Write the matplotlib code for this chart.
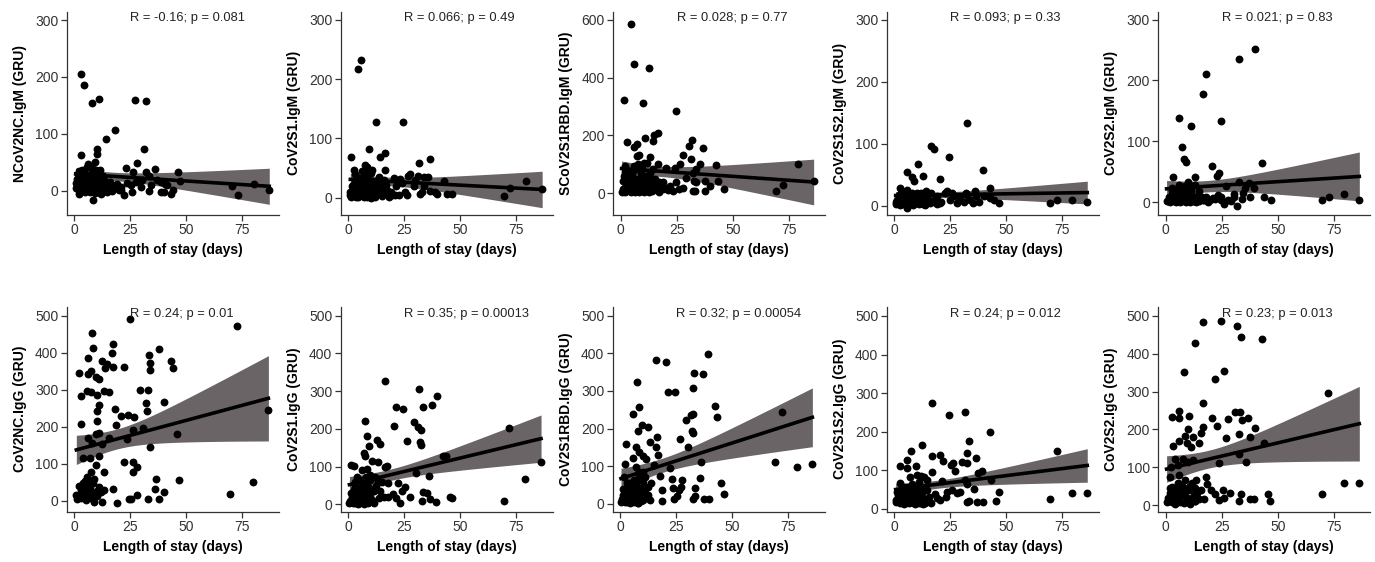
import matplotlib
matplotlib.use("Agg")
import matplotlib.pyplot as plt
import numpy as np

plt.rcParams['font.family'] = ['Liberation Sans', 'DejaVu Sans']

# (length of stay, GRU) pairs
ncov2nc_igm = [(3.3,205),(4.3,186),(8.2,155),(11.3,161),(27.3,160),(32.2,158),(18.3,107),(14.3,91),(31.4,74),
    (10.3,74),(10.3,64),(3.3,62),(28.2,48),(23.3,40),(36.1,39),(46.4,32),(47.3,17),(70.3,8),(73.1,-8),(80.2,11),
    (87.1,1),(8.3,-16),(22.3,-8),(43.4,-5),(2.4,-5),(9.4,50),(6.2,47),(26.3,32),(32.2,33),(33.3,25),(26,-2),
    (33.4,-1),(38.6,-2),(40.1,-2),(44.3,1),(34.5,10),(38.6,16),(40.4,11),(29.7,7),(25.3,10),(20.8,7),(17.8,4),
    (14.9,-2),(0.7,13),(1.8,30),(3,22),(3.7,36),(5.2,25),(5.9,42),(6.7,16),(7.4,30),(8.2,7),(8.9,25),(9.7,36),
    (10.4,13),(11.1,-2),(11.9,25),(12.6,10),(13.4,19),(4.5,1),(5.6,7),(7.1,-2),(11.9,4),(3.7,16),(6.2,13),(9.4,1),
    (10.7,30),(11.6,37),(14.1,7),(16.3,4),(18.6,10),(20.1,1),(23.8,13),(27.5,16),(30.5,19),(37.1,19),(41.6,10),
    (1.5,10),(4.8,30),(7.7,19),(10.1,19)]
ncov2nc_igm_dense = [(1,5),(1.5,20),(2,0),(2.5,12),(3,3),(3.5,25),(4,8),(4.5,18),(5,-3),(5.5,14),(6,4),(6.5,22),
    (7,9),(7.5,0),(8,15),(8.5,28),(9,6),(9.5,-4),(10,10),(10.5,20),(11,3),(11.5,14),(12,-5),(12.5,8),(13,26),
    (13.5,2),(14,12),(15,5),(16,15),(17,0),(19,12),(21,2),(2,35),(5,28),(8,40)]
cov2s1_igm = [(4.6,217),(5.6,232),(12.6,127),(24.5,128),(9.5,83),(16.6,76),(14.4,69),(1.5,68),(31.6,58),(36.7,66),
    (2.8,47),(7.4,55),(16.6,46),(42.6,28),(79.5,28),(86.6,15),(69.5,3),(72.4,17),(46.4,6),(4,35),(1,4),(2.5,10),
    (4.3,2),(6.2,19),(7.7,41),(9.2,30),(10,7),(10.7,47),(11.7,24),(12.6,5),(13.7,35),(15.2,19),(17.4,13),(19.6,5),
    (21.5,19),(20.6,34),(23,31),(25.3,10),(26.4,5),(26.7,37),(27.8,40),(30,30),(31.2,37),(33,10),(34,19),(35.8,35),
    (36.7,12),(38.9,9),(44.1,7),(5.5,27),(7,2),(8.5,16),(1.8,19),(3.3,30),(10,-1),(12.9,21),(15.9,30),(18.1,2),
    (22.6,5),(24.1,25),(29.3,19),(31.9,6),(39.6,6),(33.7,35),(6.7,35),(8.5,52),(10,41),(4.8,7)]
cov2s1_igm_dense = [(1,10),(1.5,2),(2,22),(2.5,5),(3,14),(3.5,1),(4,26),(4.5,9),(5,3),(5.5,17),(6,6),(6.5,12),
    (7,24),(7.5,4),(8,10),(8.5,1),(9,20),(9.5,7),(10,14),(10.5,3),(11,28),(11.5,9),(12,2),(12.5,16),(13,6),
    (13.5,25),(14,11),(15,3),(16,8),(17,22),(19,10),(21,4),(3,40),(6,45),(9,38)]
scov2s1rbd_igm = [(4.6,585),(5.8,447),(12.6,433),(1.6,322),(9.8,311),(24.6,283),(2.7,178),(7.1,169),(5.9,161),
    (10.7,192),(15,201),(16.6,209),(14.5,180),(31.7,183),(30.4,163),(36.6,155),(31.3,117),(27.6,134),(26.4,100),
    (35.6,101),(42.4,98),(79.3,100),(86.1,44),(69.3,8),(72.3,28),(46.1,14),(43.4,43),(1.9,94),(7.1,129),(8.3,134),
    (11.6,106),(13,126),(16.7,100),(0.4,6),(1.2,43),(1.9,83),(3,48),(4.1,8),(5.3,31),(5.9,94),(7.1,8),(8.3,48),
    (9.3,83),(10.4,8),(11.3,31),(12.3,8),(13,71),(14.2,83),(17.5,20),(18.7,14),(20.4,89),(21.9,25),(23.4,8),
    (24.1,89),(24.9,39),(26.1,14),(27.9,20),(29.3,54),(32.3,71),(32.6,43),(33,8),(33.8,39),(37.5,43),(37.5,8),
    (40,25),(32.3,8),(4.9,71),(7.9,100),(6.4,48),(8.6,25),(10.4,106),(11.9,60),(15.3,48),(17.2,39),(19.7,20),
    (33.8,83)]
scov2s1rbd_igm_dense = [(1,15),(1.5,60),(2,5),(2.5,30),(3,10),(3.5,55),(4,20),(4.5,3),(5,40),(5.5,12),(6,25),
    (6.5,6),(7,50),(7.5,18),(8,4),(8.5,35),(9,10),(9.5,62),(10,22),(10.5,5),(11,45),(11.5,15),(12,30),(12.5,4),
    (13,20),(13.5,50),(14,8),(15,28),(16,12),(17,5),(19,40),(21,10),(2,75),(6,80),(9,70)]
cov2s1s2_igm = [(32.5,133),(16.6,97),(17.8,92),(24.7,78),(10.8,68),(12.9,48),(39.6,58),(5.9,55),(8.1,46),(8.9,40),
    (20.4,43),(2.7,28),(42.6,28),(69.5,5),(72.5,10),(79.4,9),(86.2,6),(46.6,5),(36.2,24),(5.9,26),(0.7,6),(2.2,12),
    (3.7,4),(4.4,17),(5.9,-3),(7.1,9),(8.1,20),(9.6,4),(10.4,21),(11.5,10),(12.6,4),(13.6,15),(14.8,9),(16.3,20),
    (17.8,6),(19.2,15),(20.7,4),(22.5,20),(23.7,23),(25.1,9),(26.6,15),(28.1,4),(29.6,12),(31.1,6),(32.5,17),
    (34,10),(35.2,4),(36.7,16),(37.7,6),(39.9,15),(42.9,12),(44.4,9),(11.8,20),(9.2,15),(5.2,12),(3,15),(3.7,23),
    (14.1,23),(18.5,12),(25.9,20),(32.2,20)]
cov2s1s2_igm_dense = [(1,3),(1.5,10),(2,5),(2.5,1),(3,8),(3.5,14),(4,2),(4.5,6),(5,11),(5.5,3),(6,7),(6.5,16),
    (7,2),(7.5,5),(8,12),(8.5,1),(9,8),(9.5,4),(10,14),(10.5,6),(11,2),(11.5,9),(12,5),(12.5,13),(13,3),(13.5,7),
    (14,1),(15,10),(16,4),(17,8),(19,2),(21,6),(2,18),(6,20),(10,17)]
cov2s2_igm = [(39.9,252),(32.6,236),(17.9,210),(16.8,177),(24.8,134),(6.1,138),(11.1,126),(7.1,91),(8,71),(9,66),
    (20.8,60),(42.8,65),(3.1,41),(13,42),(23.8,48),(23,43),(10,34),(69.6,3),(72.7,9),(79.5,13),(86.4,4),(47,4),
    (44,9),(37.7,8),(31.9,-7),(37.1,31),(39.6,23),(32.9,34),(27,27),(0.4,2),(1.9,9),(2.7,23),(4.1,4),(4.9,15),
    (5.9,29),(6.8,2),(7.8,12),(8.6,26),(9.7,4),(10.8,12),(11.8,26),(12.7,2),(13.7,9),(14.8,18),(16.7,4),(18.2,9),
    (19.6,4),(21.9,5),(24.8,9),(26,-3),(27.8,4),(29.2,2),(30.7,9),(34,5),(34.7,15),(35.5,23),(4.1,20),(5.6,9),
    (7.4,20),(9.3,18),(11.5,18),(13,5),(24.8,4),(23.3,12),(13,29),(30.4,14)]
cov2s2_igm_dense = [(1,2),(1.5,8),(2,1),(2.5,4),(3,12),(3.5,2),(4,6),(4.5,1),(5,9),(5.5,3),(6,14),(6.5,1),(7,5),
    (7.5,10),(8,2),(8.5,6),(9,1),(9.5,11),(10,3),(10.5,7),(11,1),(11.5,15),(12,4),(12.5,2),(13,8),(13.5,1),(14,5),
    (15,2),(16,9),(17,3),(19,1),(21,7),(3,18),(6,22),(9,16)]
cov2nc_igg = [(25.1,491),(72.8,473),(8.1,453),(17.2,424),(17,399),(8.3,413),(38,411),(33.3,395),(2.4,347),(6.2,386),
    (12.3,377),(14.5,370),(13.8,359),(17.2,363),(22.2,361),(33.7,372),(33.7,354),(43.2,377),(44.1,360),(7.4,350),
    (6.4,343),(9.9,334),(10.9,329),(3.1,284),(5.6,297),(7.4,295),(10.4,286),(13.3,298),(15.5,295),(29.6,300),
    (32.9,300),(32,264),(32.5,243),(40,268),(18.2,248),(20.9,230),(23.9,232),(26.7,226),(11.1,259),(10.4,243),
    (3.3,208),(18.5,206),(10.1,217),(23.4,168),(26.4,192),(30.8,198),(45.9,181),(86.7,246),(34,147),(6.2,169),
    (8.1,158),(9.6,181),(11.1,183),(12.3,154),(15.5,169),(4,115),(7.1,115),(11.2,122),(22.2,104),(26.4,105),
    (28.1,93),(26.2,77),(13.3,77),(9.6,97),(7.4,79),(5.6,64),(36.7,59),(47,57),(79.9,50),(69.5,19),(35.9,32),
    (40,25),(17.2,32),(28.1,16),(19.2,-5),(24.4,5),(25.4,5),(33,5),(37.9,5),(1.2,5),(3,30),(3.7,12),(4.4,34),
    (5.2,3),(5.9,21),(6.7,41),(7.4,7),(8.1,16),(8.9,-2),(10.4,14),(11.8,25),(12.6,-2),(13.3,30),(5.6,12),(4.1,48),
    (6.2,52),(8.6,48),(11.1,39),(4.4,19),(7.1,30)]
cov2nc_igg_dense = [(1,15),(2,40),(3,8),(4,25),(5,55),(6,18),(7,35),(8,10),(9,60),(10,28)]
cov2s1_igg = [(16.6,326),(31.5,306),(39.5,288),(21.4,259),(24.7,254),(33.6,259),(37.4,263),(7.7,221),(20.4,208),
    (29.4,217),(31.4,206),(32.5,196),(26.5,169),(32.1,164),(32.4,158),(12.7,171),(14.3,160),(8.6,181),(9.5,155),
    (7,137),(7.7,127),(10.5,116),(13.5,113),(16.6,98),(17.3,102),(1.5,103),(2.8,102),(6.1,91),(8.4,93),(42.5,127),
    (43.5,127),(72,202),(86.1,113),(79.1,66),(69.4,10),(30.3,84),(36.2,75),(18,56),(22.3,56),(25.4,45),(23.9,34),
    (33.3,32),(35.1,29),(36.5,14),(39.2,7),(45.4,19),(46.4,16),(27.7,19),(17.6,20),(21.4,16),(23.2,4),(32.8,10),
    (0.6,4),(1.8,20),(2.5,38),(3.3,60),(4.3,12),(5.2,29),(5.8,47),(6.7,65),(7.4,7),(8.4,25),(9.3,42),(9.9,65),
    (10.7,12),(11.7,34),(12.6,49),(13.6,16),(14.3,34),(4,73),(9.9,78),(12.1,73),(8.1,73),(4.7,3),(11.4,4),(5.5,16),
    (9.9,20),(3.3,3),(7.7,47),(13.2,58),(15.1,60),(15.8,20),(20,27),(7,38)]
cov2s1_igg_dense = [(1,8),(1.5,30),(2,4),(2.5,15),(3,45),(3.5,6),(4,22),(4.5,2),(5,10),(5.5,35),(6,5),(6.5,18),
    (7,2),(7.5,28),(8,9),(8.5,50),(9,3),(9.5,14),(10,32)]
cov2s1rbd_igg = [(39.3,399),(16.2,381),(20.4,378),(33.2,347),(37.2,345),(7.5,325),(32.5,309),(21.4,297),(24.4,298),
    (8.6,258),(5.6,238),(42.2,261),(43.3,230),(72.1,243),(29.5,223),(31.8,236),(32.5,239),(31.9,194),(32.5,189),
    (9.6,210),(12.6,203),(7.8,194),(2.7,159),(16.4,178),(13.4,165),(26.6,171),(30.4,152),(6.9,152),(16,150),
    (16.7,131),(8.4,137),(2.4,106),(5.9,123),(10,127),(11.5,118),(15.2,103),(36.3,112),(69.1,111),(79,97),(85.8,106),
    (22.3,94),(1.6,70),(10,85),(13.7,54),(17.7,74),(23,67),(27.5,63),(35.5,69),(45.2,56),(46.2,26),(33.4,41),
    (33.4,22),(32.5,12),(37.4,12),(39.6,12),(26.3,36),(27,45),(23.6,41),(18.9,36),(18.6,8),(24.1,12),(25.3,21),
    (13.3,10),(0.4,6),(1.5,23),(2.4,36),(3,5),(3.8,19),(4.4,41),(5.3,10),(6.2,28),(7.1,47),(7.8,5),(8.6,23),(9.3,41),
    (10.3,10),(11.2,28),(12.3,45),(3.8,54),(6.4,63),(8.3,85),(8.6,72),(11.2,72),(4.9,26),(10,59),(7.1,99),(7.8,1),
    (12.4,23)]
cov2s1rbd_igg_dense = [(1,12),(1.5,40),(2,5),(2.5,20),(3,55),(3.5,8),(4,30),(4.5,2),(5,15),(5.5,45),(6,6),
    (6.5,25),(7,10),(7.5,60),(8,3),(8.5,18),(9,35),(9.5,7)]
cov2s1s2_igg = [(16.7,274),(24.7,244),(31.5,250),(42.6,199),(33.6,176),(12.6,166),(72.5,150),(7.7,149),(16.7,136),
    (20.7,140),(21.9,125),(32.5,144),(36.5,133),(5.6,127),(9.6,112),(2.7,112),(30.3,123),(32.5,118),(26.3,118),
    (25.4,114),(27.4,98),(39.2,98),(37.4,92),(16.7,96),(5.6,105),(10.1,88),(11.8,85),(13.3,84),(43.3,75),(31.5,75),
    (32.5,64),(35.5,52),(46.6,43),(79.4,42),(86.2,42),(69.5,27),(45.4,21),(37,19),(39.5,19),(32.5,17),(33.6,21),
    (28.1,42),(29.6,45),(23.7,45),(25.9,49),(20.7,23),(23,32),(18.2,38),(14.8,75),(21.4,73),(0.7,23),(1.8,36),
    (2.7,68),(3.3,49),(4.1,16),(5.2,32),(5.9,58),(6.7,23),(7.4,41),(8.1,66),(8.9,15),(9.6,49),(10.4,32),(11.2,71),
    (11.8,16),(12.6,41),(13.3,23),(14.5,49),(15.5,32),(7.1,84),(4.4,58),(8.6,49),(10.7,58),(13.6,15),(3.7,28),
    (16.3,15),(19.2,28)]
cov2s1s2_igg_dense = [(1,18),(1.5,45),(2,25),(2.5,15),(3,38),(3.5,20),(4,55),(4.5,14),(5,30),(5.5,18),(6,42),
    (6.5,15),(7,25),(7.5,52),(8,17),(8.5,33),(9,20),(9.5,14),(10,40),(10.5,22),(11,16),(11.5,30),(12,19),
    (12.5,48),(13,14),(13.5,27),(14,18)]
cov2s2_igg = [(16.8,483),(24.8,485),(31.9,474),(33.7,443),(42.8,438),(13,428),(8.1,351),(25.8,354),(21.9,332),
    (72.5,295),(16.8,269),(6.1,249),(10.2,236),(3,232),(6.1,229),(20.7,231),(27.8,228),(30.9,247),(33.1,247),
    (36.6,231),(33.9,225),(23,210),(16.8,207),(10,200),(39.9,203),(8.6,183),(12,181),(27,176),(32.5,188),(37.8,181),
    (3.1,156),(5.9,168),(9.3,163),(11.2,153),(14.9,165),(15.7,191),(43.7,165),(32.5,135),(35.9,115),(23.9,110),
    (4.1,123),(7.8,123),(10,115),(12.4,119),(2.4,101),(5.3,106),(1.9,73),(6.1,79),(18.2,75),(18.6,55),(20.1,40),
    (25.6,41),(28.7,33),(26,20),(21.9,29),(33.7,29),(37.4,15),(39.6,15),(45.5,29),(46.7,11),(69.6,29),(79.5,59),
    (86.4,59),(32.6,11),(23.8,13),(17,16),(13,11),(0.4,9),(1.9,31),(3,48),(3.8,18),(4.9,40),(5.6,59),(6.4,9),
    (7.1,29),(7.8,48),(8.6,66),(9.3,18),(10,40),(10.8,4),(11.8,57),(12.7,29),(13.7,66),(14.8,15),(15.7,40),(4.1,4),
    (6.8,44),(8.6,35),(10.8,48),(13,44)]
cov2s2_igg_dense = [(1,20),(2,45),(3,8),(4,30),(5,12),(6,55),(7,25),(8,6),(9,38),(10,15),(11,50),(12,22),(13,10),
    (14,32)]

panels = [ncov2nc_igm + ncov2nc_igm_dense, cov2s1_igm + cov2s1_igm_dense,
          scov2s1rbd_igm + scov2s1rbd_igm_dense, cov2s1s2_igm + cov2s1s2_igm_dense, cov2s2_igm + cov2s2_igm_dense,
          cov2nc_igg + cov2nc_igg_dense, cov2s1_igg + cov2s1_igg_dense, cov2s1rbd_igg + cov2s1rbd_igg_dense,
          cov2s1s2_igg + cov2s1s2_igg_dense, cov2s2_igg + cov2s2_igg_dense]
ylabels = ["NCoV2NC.IgM (GRU)", "CoV2S1.IgM (GRU)", "SCoV2S1RBD.IgM (GRU)", "CoV2S1S2.IgM (GRU)", "CoV2S2.IgM (GRU)",
           "CoV2NC.IgG (GRU)", "CoV2S1.IgG (GRU)", "CoV2S1RBD.IgG (GRU)", "CoV2S1S2.IgG (GRU)", "CoV2S2.IgG (GRU)"]
stats = ["R = -0.16; p = 0.081", "R = 0.066; p = 0.49", "R = 0.028; p = 0.77", "R = 0.093; p = 0.33",
         "R = 0.021; p = 0.83", "R = 0.24; p = 0.01", "R = 0.35; p = 0.00013", "R = 0.32; p = 0.00054",
         "R = 0.24; p = 0.012", "R = 0.23; p = 0.013"]
yticks = [[0, 100, 200, 300], [0, 100, 200, 300], [0, 200, 400, 600], [0, 100, 200, 300], [0, 100, 200, 300],
          [0, 100, 200, 300, 400, 500]] + [[0, 100, 200, 300, 400, 500]] * 4
ylims = [(-42.7, 314.6), (-29.2, 314), (-75, 628), (-15, 313), (-21, 313),
         (-29, 525), (-19.6, 524), (-21, 524), (-7, 524), (-17.5, 524)]

W, H = 1375, 562
fig = plt.figure(figsize=(W / 100, H / 100), dpi=100)
lefts = [66.7, 340.7, 613.3, 886.7, 1158.3, 66.7, 340.7, 612.7, 886.7, 1158.3]
rows = [(11.7, 215), (306.7, 511.7)]

for i, pts in enumerate(panels):
    top, bot = rows[i // 5]
    ax = fig.add_axes([lefts[i] / W, 1 - bot / H, 212 / W, (bot - top) / H])
    x, y = np.array(pts, dtype=float).T

    # linear fit with 95% confidence band
    n = len(x)
    b, a = np.polyfit(x, y, 1)
    xs = np.linspace(x.min(), x.max(), 100)
    yh = a + b * xs
    s = np.sqrt(np.sum((y - (a + b * x)) ** 2) / (n - 2))
    se = s * np.sqrt(1 / n + (xs - x.mean()) ** 2 / np.sum((x - x.mean()) ** 2))
    ax.fill_between(xs, yh - 1.98 * se, yh + 1.98 * se, color='#6b6466', lw=0, zorder=1)
    ax.scatter(x, y, s=32, color='black', lw=0, zorder=2)
    ax.plot(xs, yh, color='black', lw=2.6, zorder=3)

    ax.set_xlim(-3.3, 91.3)
    ax.set_ylim(*ylims[i])
    ax.set_xticks([0, 25, 50, 75])
    ax.set_yticks(yticks[i])
    ax.text(25, yticks[i][-1] * 1.01, stats[i], ha='left', va='center', fontsize=9.3, color='#222222')

    for side in ['top', 'right']:
        ax.spines[side].set_visible(False)
    for side in ['left', 'bottom']:
        ax.spines[side].set_color('#333333')
        ax.spines[side].set_linewidth(0.9)
    ax.tick_params(length=4.5, width=0.9, color='#333333', labelsize=10, labelcolor='#333333', pad=1.5)
    ax.set_xlabel("Length of stay (days)", fontsize=10, fontweight='bold')
    ax.set_ylabel(ylabels[i], fontsize=10, fontweight='bold', labelpad=6)

fig.savefig("out.png", dpi=100)
